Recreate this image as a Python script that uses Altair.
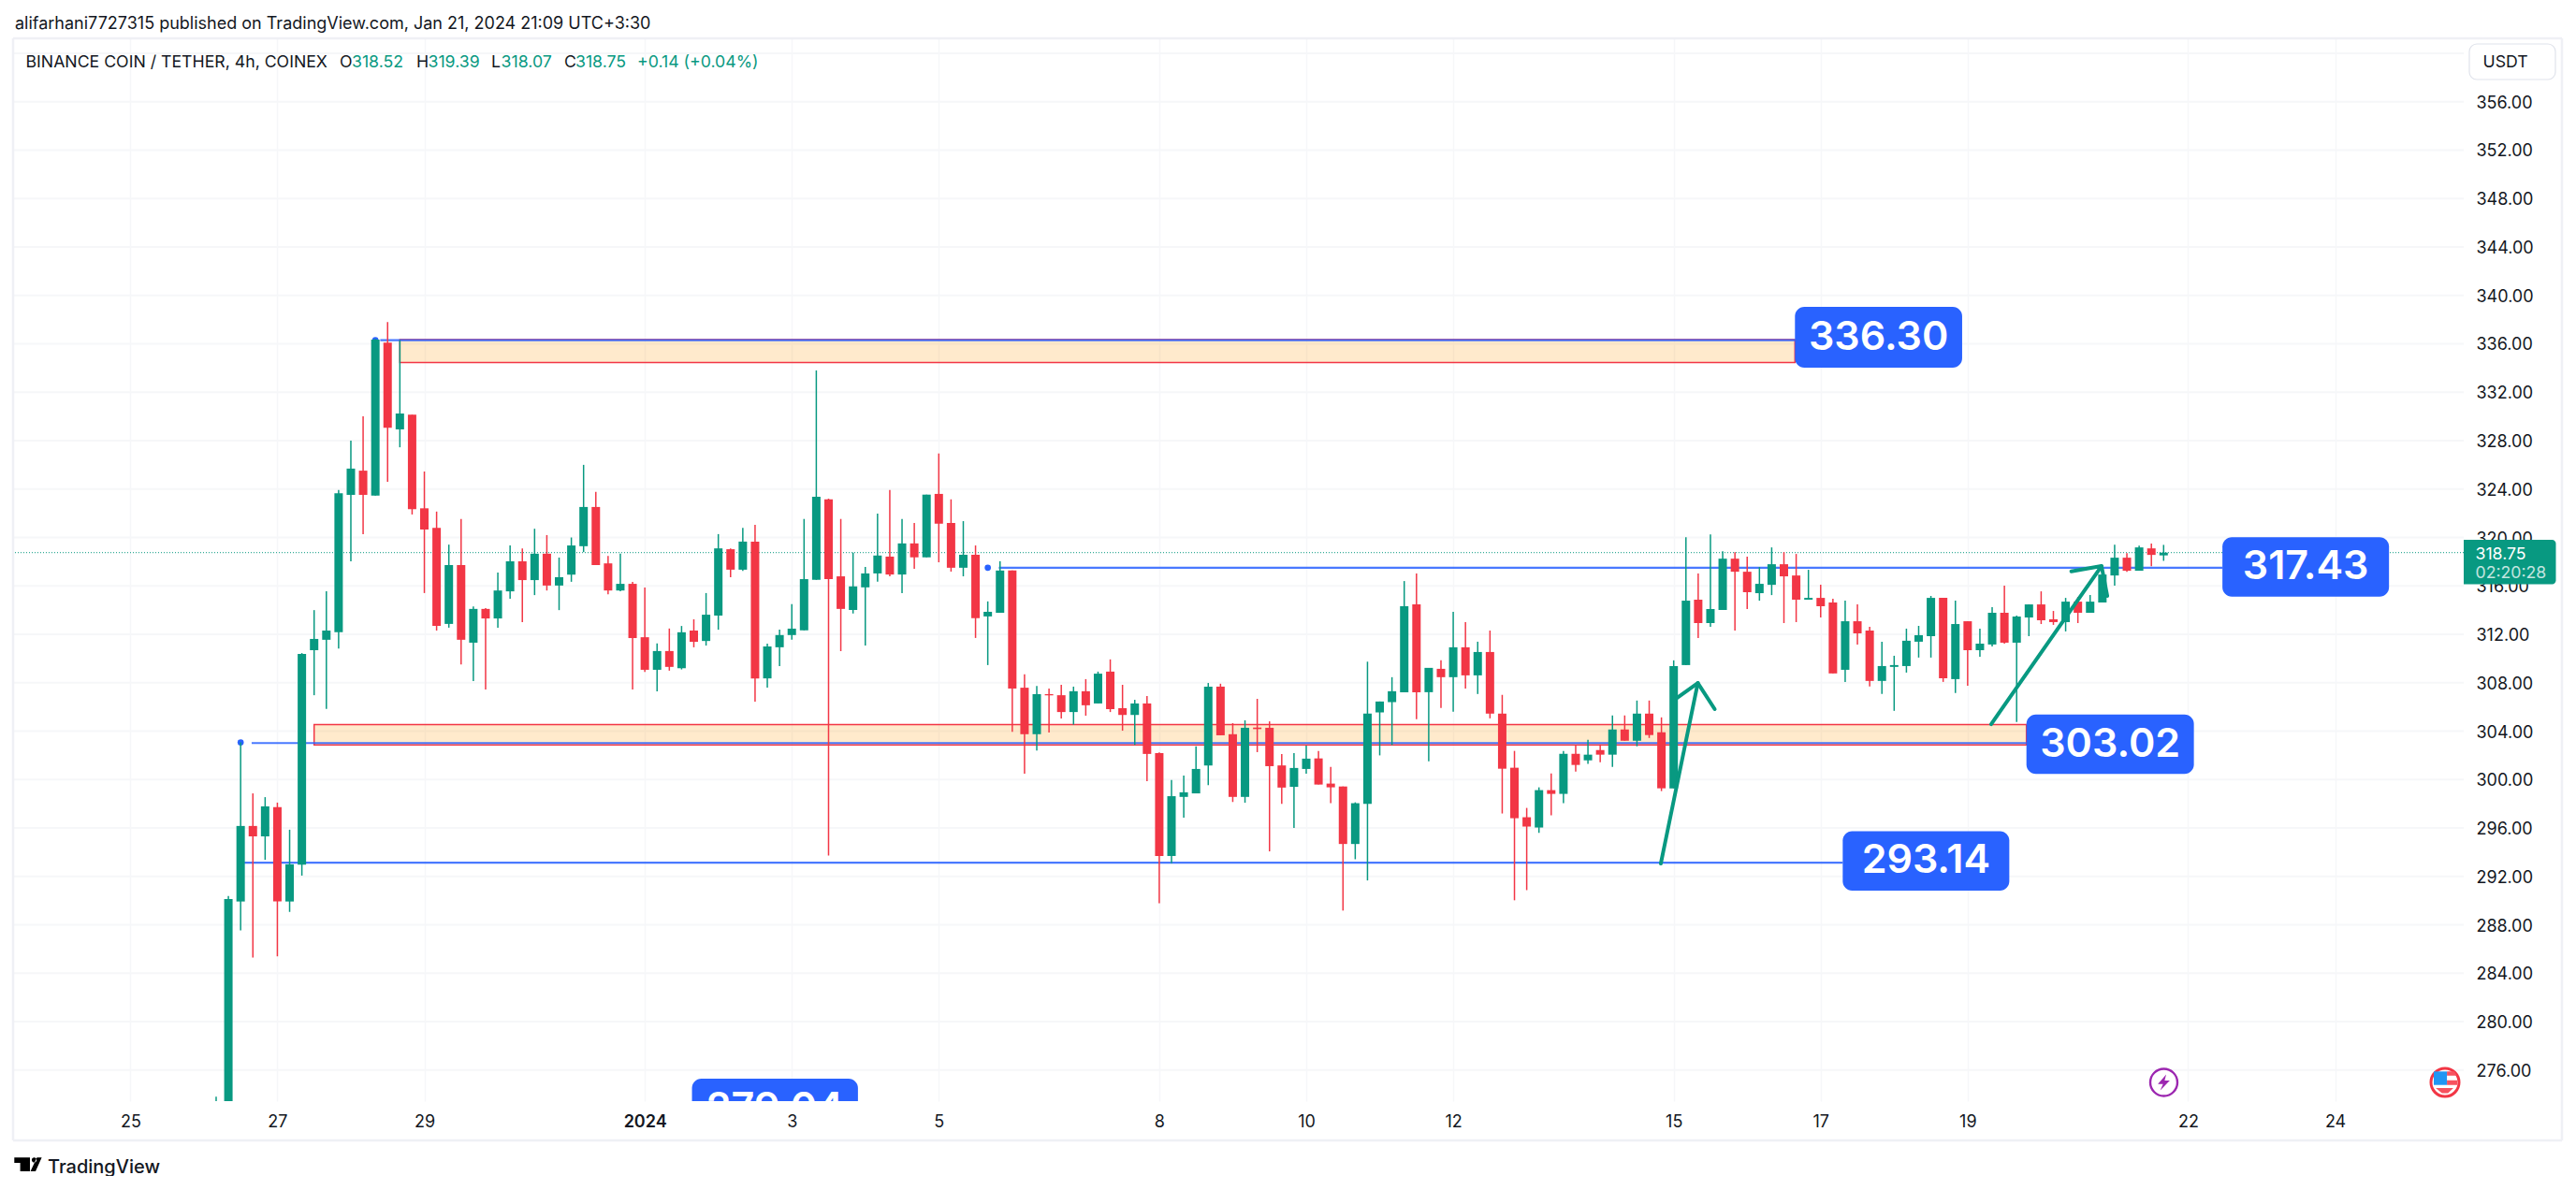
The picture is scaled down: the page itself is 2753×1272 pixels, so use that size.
import altair as alt
import pandas as pd

# ---- candle data (bar index 0 = Dec 27 00:00, 6 bars per day) ----
first_bar = -5
body_top = [272.0, 290.14, 296.17, 296.17, 297.79, 297.72, 293.0, 310.38, 311.62, 312.31, 323.66, 325.69, 325.52, 336.34, 336.1, 330.24, 330.14, 322.41, 320.79, 317.72, 317.72, 314.1, 314.1, 315.62, 318.03, 318.03, 318.66, 318.66, 316.72, 319.34, 322.52, 322.52, 317.86, 316.17, 316.17, 311.76, 310.62, 310.62, 312.17, 312.31, 313.62, 319.1, 319.03, 319.66,
            319.66, 311.0, 311.94, 312.47, 316.56, 323.36, 323.15, 316.79, 315.96, 317.03, 318.51, 318.42, 319.51, 319.51, 323.54, 323.6, 321.2, 318.57, 318.57, 313.86, 317.27, 317.27, 307.59, 307.06, 307.06, 306.97, 307.3, 307.3, 308.75, 308.92, 305.9, 306.29, 306.29, 302.18, 298.63, 298.95, 300.88, 307.68, 307.68, 303.75, 304.28, 304.3, 304.28, 301.17, 300.96, 301.73,
            301.75, 299.67, 299.43, 298.05, 305.45, 306.45, 307.3, 314.32, 314.47, 309.23, 309.15, 310.93, 310.93, 310.54, 310.54, 305.45, 300.98, 296.89, 299.13, 299.13, 302.13, 302.13, 302.06, 302.44, 304.14, 304.14, 305.45, 305.45, 303.91, 309.38, 314.78, 314.86, 314.09, 318.25, 318.25, 317.17, 316.17, 317.79, 317.79, 316.86, 315.01, 315.01, 314.63, 313.08, 313.08, 312.31,
            309.38, 309.46, 311.47, 311.93, 315.01, 315.01, 312.85, 313.08, 311.23, 313.78, 313.78, 313.47, 314.47, 314.47, 313.24, 314.7, 314.7, 314.7, 316.94, 318.33, 318.33, 319.18, 319.1, 318.75]
body_bot = [270.0, 262.0, 289.93, 295.31, 295.31, 289.93, 289.93, 292.97, 310.69, 311.55, 312.17, 323.52, 323.52, 323.45, 329.07, 328.93, 322.34, 320.66, 312.69, 312.86, 311.55, 311.31, 313.31, 313.31, 315.55, 316.48, 316.48, 316.03, 316.03, 316.93, 319.28, 317.72, 315.62, 315.62, 311.69, 309.07, 309.07, 309.31, 309.2, 311.38, 311.45, 313.55, 317.34, 317.34,
            308.36, 308.36, 310.93, 311.94, 312.33, 316.5, 316.56, 314.1, 314.01, 315.88, 317.03, 316.94, 316.94, 318.36, 318.36, 321.14, 317.5, 317.5, 313.33, 313.48, 313.78, 307.53, 303.75, 303.75, 306.96, 305.58, 305.58, 306.14, 306.29, 305.82, 305.34, 305.34, 302.12, 293.69, 293.69, 298.57, 298.86, 301.17, 303.66, 298.57, 298.57, 304.17, 301.11, 299.34, 299.4, 300.88,
            299.59, 299.36, 294.68, 294.68, 298.0, 305.55, 306.4, 307.22, 307.22, 307.22, 308.46, 308.46, 308.61, 308.61, 305.45, 300.9, 296.81, 296.12, 296.04, 298.82, 298.82, 301.21, 301.59, 302.06, 302.06, 303.21, 303.21, 303.68, 299.28, 299.28, 309.46, 312.93, 312.93, 314.01, 317.17, 315.48, 315.4, 316.09, 316.79, 314.86, 314.86, 314.32, 308.77, 309.07, 312.08, 308.15,
            308.15, 309.31, 309.38, 311.39, 311.85, 308.38, 308.3, 310.69, 310.69, 311.16, 311.31, 311.31, 313.39, 313.16, 313.01, 313.01, 313.78, 313.78, 314.63, 316.86, 317.25, 317.25, 318.56, 318.52]
highs = [273.8, 290.38, 303.07, 298.86, 298.55, 298.1, 295.86, 310.45, 314.0, 315.55, 323.93, 328.0, 330.0, 336.4, 337.79, 336.3, 330.14, 325.45, 322.14, 319.41, 321.52, 314.31, 314.17, 317.1, 319.34, 319.1, 320.72, 320.2, 318.34, 320.0, 326.0, 323.76, 318.48, 318.66, 316.34, 315.86, 311.24, 312.48, 312.69, 313.24, 315.41, 320.28, 319.1, 320.79,
         321.05, 311.23, 312.38, 314.49, 321.53, 333.8, 323.2, 321.53, 318.75, 317.56, 321.97, 323.92, 321.53, 321.2, 323.54, 326.94, 323.15, 321.35, 319.34, 314.72, 318.04, 317.27, 308.69, 307.74, 307.53, 307.83, 307.68, 308.3, 308.92, 309.93, 307.83, 306.59, 306.91, 302.24, 299.96, 300.34, 302.74, 307.98, 307.92, 304.66, 304.9, 306.67, 304.81, 302.12, 302.18, 302.8,
         302.37, 301.05, 299.43, 298.12, 309.74, 306.45, 308.46, 316.4, 317.02, 309.23, 309.85, 313.86, 313.0, 311.39, 312.31, 307.0, 302.37, 297.66, 299.36, 300.51, 302.37, 302.83, 303.29, 302.9, 305.3, 305.3, 306.53, 306.53, 305.14, 309.85, 320.03, 317.02, 320.26, 318.87, 318.79, 318.41, 317.56, 319.18, 318.79, 318.64, 317.33, 316.09, 314.94, 314.78, 314.47, 312.62,
         311.39, 310.23, 312.47, 312.7, 315.17, 315.01, 314.78, 313.08, 312.47, 314.24, 316.02, 313.55, 314.47, 315.55, 313.93, 315.01, 315.09, 315.24, 316.94, 319.41, 318.71, 319.33, 319.49, 319.39]
lows = [266.0, 260.0, 287.55, 285.3, 293.38, 285.4, 289.07, 292.07, 306.97, 305.83, 310.83, 318.03, 320.28, 323.45, 324.59, 327.45, 321.9, 315.41, 312.31, 312.55, 309.52, 308.14, 307.45, 312.55, 314.93, 313.0, 315.24, 315.62, 314.0, 316.34, 318.79, 317.72, 315.31, 315.55, 307.45, 308.9, 307.28, 309.0, 309.1, 310.93, 311.07, 312.38, 316.72, 317.24,
        306.44, 307.59, 309.37, 311.56, 312.33, 316.5, 293.72, 310.61, 313.72, 311.08, 316.35, 316.79, 315.4, 317.41, 318.36, 317.95, 317.18, 316.79, 311.7, 309.46, 313.78, 303.95, 300.49, 302.41, 303.89, 305.05, 304.54, 305.28, 306.29, 305.58, 304.04, 302.86, 299.87, 289.78, 293.09, 296.85, 298.86, 299.54, 303.66, 298.15, 298.09, 302.27, 294.07, 298.0, 296.0, 300.49,
        299.59, 298.05, 289.18, 293.42, 291.67, 302.0, 302.85, 307.22, 304.99, 301.52, 305.91, 305.6, 307.53, 307.07, 305.06, 297.2, 290.03, 290.87, 295.6, 297.04, 298.05, 300.67, 301.29, 301.44, 301.05, 303.21, 302.75, 303.44, 299.05, 299.28, 309.46, 311.7, 312.62, 314.01, 312.31, 314.09, 314.78, 315.24, 312.93, 313.01, 314.86, 313.39, 308.77, 308.07, 311.16, 307.69,
        307.07, 305.68, 308.84, 310.08, 310.08, 308.07, 307.15, 307.76, 310.15, 311.0, 311.23, 304.76, 311.85, 312.85, 312.78, 312.24, 312.93, 313.78, 314.63, 316.02, 317.17, 317.25, 317.63, 318.07]
rising_bars = [-5, -4, -3, -1, 1, 2, 3, 4, 5, 6, 8, 10, 14, 16, 18, 19, 21, 23, 24, 25, 28, 31, 33, 35, 36, 38,
               40, 41, 42, 43, 44, 47, 48, 49, 51, 53, 56, 58, 59, 62, 65, 67, 70, 73, 74, 75, 76, 79, 83, 84,
               88, 89, 90, 91, 92, 94, 96, 98, 103, 105, 107, 109, 111, 114, 115, 117, 118, 121, 122, 125, 128,
               131, 132, 133, 134, 135, 137, 139, 140, 142, 143, 146, 148, 149, 150, 152, 154]

# ---- axis values ----
price_ticks = list(range(276, 360, 4))
grid_prices = list(range(276, 364, 4))
day_bars = [-12, 0, 12, 30, 42, 54, 72, 84, 96, 114, 126, 138, 156, 168]
day_labels = ["25", "27", "29", "2024", "3", "5", "8", "10", "12", "15", "17", "19", "22", "24"]
year_bar = 30

# ---- drawings ----
line_price = [336.3, 303.02, 293.14, 317.5]
line_start = [8.0, -3.0, -3.0, 58.0]
line_gap = [0.4, 0.9, 0.3, 0.9]
line_end = [123.9, 142.8, 127.8, 158.8]
dot_bar = [8.0, -3.0, 58.0]
dot_price = [336.3, 303.07, 317.5]

zone_start = [10.0, 3.0]
zone_end = [123.9, 142.8]
zone_top = [336.34, 304.55]
zone_bot = [334.45, 302.86]

box_text = ["336.30", "317.43", "303.02", "293.14", "279.04"]
box_left = [123.9, 158.8, 142.8, 127.8, 33.85]
box_right = [137.55, 172.4, 156.47, 141.4, 47.4]
box_top = [339.05, 320.03, 305.37, 295.73, 275.3]
box_bot = [334.02, 315.12, 300.46, 290.82, 270.4]

arrow_id = ["a1", "a1", "h1", "h1", "h1", "a2", "a2", "h2", "h2", "h2"]
arrow_bar = [112.95, 115.97, 114.26, 115.97, 117.35, 139.92, 148.93, 146.46, 148.93, 149.4]
arrow_price = [293.07, 307.98, 306.74, 307.98, 305.82, 304.58, 317.64, 317.2, 317.64, 315.17]

last_close = 318.75

# ---- colours ----
GREEN = "#089981"
RED = "#F23645"
BLUE = "#2962FF"
INK = "#131722"
GRID = "#F6F7F9"
FRAME = "#EFF0F5"
FONT = "Inter"

# ---- frame geometry of the view ----
PLOT_W, PLOT_H = 2618, 1136
LEFT, TOP = 15, 41
xdom = [-21.5, 178.5]
ydom = [273.44, 361.23]


def px(x):
    return x - LEFT


def py(y):
    return y - TOP


xs = alt.Scale(domain=xdom, nice=False, zero=False, padding=0)
ys = alt.Scale(domain=ydom, nice=False, zero=False, padding=0)


def X(f):
    return alt.X(f, type="quantitative", scale=xs, title=None)


def Y(f):
    return alt.Y(f, type="quantitative", scale=ys, title=None)


bars = list(range(first_bar, first_bar + len(body_top)))
candles = pd.DataFrame({
    "bar": bars,
    "top": body_top,
    "bot": body_bot,
    "high": highs,
    "low": lows,
    "col": [GREEN if b in rising_bars else RED for b in bars],
})

# Axes and grid
x_axis = alt.Axis(
    values=day_bars, title=None, domain=False, ticks=False, grid=True, gridColor=GRID, gridWidth=1.5,
    labelFont=FONT, labelFontSize=18, labelColor=INK, labelPadding=13, labelAngle=0, labelOverlap=False,
    labelExpr="[" + ",".join(f"'{s}'" for s in day_labels) + "][indexof([" + ",".join(map(str, day_bars)) + "],datum.value)]",
    labelFontWeight={"condition": {"test": f"datum.value=={year_bar}", "value": 600}, "value": 400},
)
y_axis = alt.Axis(
    values=price_ticks, orient="right", title=None, domain=False, ticks=False, grid=False,
    labelFont=FONT, labelFontSize=18, labelColor=INK, labelPadding=13, format=".2f", labelOverlap=False,
    labelBaseline="middle", labelOffset=1.5,
)
axes = alt.Chart(pd.DataFrame({"bar": [0], "p": [300]})).mark_point(opacity=0).encode(
    x=alt.X("bar:Q", scale=xs, axis=x_axis), y=alt.Y("p:Q", scale=ys, axis=y_axis))
hgrid = alt.Chart(pd.DataFrame({"p": grid_prices})).mark_rule(color=GRID, strokeWidth=2).encode(y=Y("p"))

# Close line
close_line = alt.Chart(pd.DataFrame({"p": [last_close]})).mark_rule(
    color=GREEN, strokeWidth=1, strokeDash=[1, 2]).encode(y=Y("p"))

# Levels
lines = pd.DataFrame({"p": line_price, "a": [s + g for s, g in zip(line_start, line_gap)], "b": line_end})
level_lines = alt.Chart(lines).mark_rule(color=BLUE, strokeWidth=2.2, opacity=0.85, clip=True).encode(
    x=X("a"), x2=alt.X2("b"), y=Y("p"))
dots = alt.Chart(pd.DataFrame({"a": dot_bar, "p": dot_price})).mark_circle(color=BLUE, size=45, opacity=1).encode(
    x=X("a"), y=Y("p"))

zones = pd.DataFrame({"a": zone_start, "b": zone_end, "t": zone_top, "u": zone_bot})
zone_rect = alt.Chart(zones).mark_rect(
    fill="#FF9800", fillOpacity=0.2, stroke=RED, strokeWidth=1.5).encode(
    x=X("a"), x2=alt.X2("b"), y=Y("t"), y2=alt.Y2("u"))

# Candles
wicks = alt.Chart(candles).mark_rule(strokeWidth=1.5, clip=True).encode(
    x=X("bar"), y=Y("high"), y2=alt.Y2("low"), color=alt.Color("col:N", scale=None, legend=None))
bodies = alt.Chart(candles).mark_bar(size=9, clip=True).encode(
    x=X("bar"), y=Y("top"), y2=alt.Y2("bot"), color=alt.Color("col:N", scale=None, legend=None))

# Arrows
arrows_df = pd.DataFrame({"id": arrow_id, "bar": arrow_bar, "p": arrow_price, "n": range(len(arrow_id))})
arrows = alt.Chart(arrows_df).mark_line(color=GREEN, strokeWidth=4, strokeCap="round", strokeJoin="round").encode(
    x=X("bar"), y=Y("p"), detail="id:N", order="n:Q")

# Value boxes
boxes_df = pd.DataFrame({"t": box_text, "a": box_left, "b": box_right, "u": box_top, "v": box_bot})
boxes_df["m"] = (boxes_df["a"] + boxes_df["b"]) / 2
boxes_df["c"] = (boxes_df["u"] + boxes_df["v"]) / 2
boxes = alt.Chart(boxes_df).mark_rect(color=BLUE, cornerRadius=10, clip=True, opacity=1).encode(
    x=X("a"), x2=alt.X2("b"), y=Y("u"), y2=alt.Y2("v"))
box_labels = alt.Chart(boxes_df).mark_text(
    color="white", font=FONT, fontSize=43, fontWeight=600, baseline="middle", align="center", clip=True).encode(
    x=X("m"), y=Y("c"), text="t:N")


# ---- chrome ----
def one():
    return alt.Chart(pd.DataFrame({"k": [0]}))


def label(txt, x, y, size=17.7, color=INK, weight=400, align="left", opacity=1):
    return one().mark_text(text=txt, font=FONT, fontSize=size, color=color, fontWeight=weight,
                           align=align, baseline="middle", opacity=opacity).encode(
        x=alt.value(px(x)), y=alt.value(py(y + 1.5)))


def frame(x1, y1, x2, y2):
    return one().mark_rule(color=FRAME, strokeWidth=2.5).encode(
        x=alt.value(px(x1)), x2=alt.value(px(x2)), y=alt.value(py(y1)), y2=alt.value(py(y2)))


def rect(x1, y1, x2, y2, **kw):
    return one().mark_rect(**kw).encode(
        x=alt.value(px(x1)), x2=alt.value(px(x2)), y=alt.value(py(y1)), y2=alt.value(py(y2)))


def glyph(path, x, y, span, color):
    return one().mark_point(shape=path, size=span * span, filled=True, fill=color, stroke=color, strokeWidth=0,
                            opacity=1).encode(x=alt.value(px(x)), y=alt.value(py(y)))


def ring(x, y, d, color, width, fill="white"):
    return one().mark_point(shape="circle", size=d * d, filled=True, fill=fill, stroke=color, strokeWidth=width,
                            opacity=1).encode(x=alt.value(px(x)), y=alt.value(py(y)))


frames = [frame(14, 41, 2738, 41), frame(14, 1219, 2738, 1219), frame(14, 41, 14, 1219), frame(2738, 41, 2738, 1219)]
tag = rect(2633, 577, 2731.5, 624.5, color=GREEN, cornerRadiusTopRight=4, cornerRadiusBottomRight=4, opacity=1)
button = rect(2639, 47, 2731, 85, fill="white", stroke="#E0E3EB", strokeWidth=1.2, cornerRadius=8)

chrome = [
    label("alifarhani7727315 published on TradingView.com, Jan 21, 2024 21:09 UTC+3:30", 16, 24, size=18),
    label("BINANCE COIN / TETHER, 4h, COINEX", 27.5, 65),
    label("O", 363, 65), label("318.52", 376, 65, color=GREEN),
    label("H", 445, 65), label("319.39", 457.5, 65, color=GREEN),
    label("L", 525, 65), label("318.07", 535.6, 65, color=GREEN),
    label("C", 603, 65), label("318.75", 615, 65, color=GREEN),
    label("+0.14 (+0.04%)", 681, 65, color=GREEN),
    button, label("USDT", 2653.5, 65.5),
    tag,
    label("318.75", 2645.5, 591, color="white"),
    label("02:20:28", 2645.5, 611.5, color="white", opacity=0.75),
    label("TradingView", 51, 1246, size=20, weight=500),
]

logo = glyph("M-1,-.5L.14,-.5L.14,.5L-.57,.5L-.57,-.12L-1,-.12Z"
             "M.27,-.32a.18,.18 0 1,0 .36,0a.18,.18 0 1,0 -.36,0Z"
             "M.65,-.5L1,-.5L.55,.5L.18,.5Z", 29.95, 1244.65, 29.3, "#000000")

bolt = [ring(2312.5, 1157, 29, "#9C27B0", 2.4),
        glyph("M.3,-1L-.75,.2L-.1,.2L-.45,1L.75,-.25L.1,-.25Z", 2312.5, 1157, 17, "#9C27B0")]
flag_stripes = ("M.13,-.73L.62,-.73L.8,-.46L.13,-.46Z"
                "M.13,-.14L.82,-.14L.82,.17L.13,.17Z"
                "M-.62,.38L.56,.38L.2,.72L-.2,.72Z")
flag = [ring(2613, 1157, 30, RED, 3),
        glyph(flag_stripes, 2613, 1157, 32, "#F7525F"),
        glyph("M-.75,-.73L.13,-.73L.13,.17L-.75,.17Z", 2613, 1157, 32, "#2196F3")]

chart = alt.layer(
    axes, hgrid, close_line, zone_rect, level_lines, dots, wicks, bodies, arrows,
    *bolt, *flag, boxes, box_labels, *frames, logo, *chrome
).properties(
    width=PLOT_W, height=PLOT_H,
    autosize=alt.AutoSizeParams(type="none"),
    padding={"left": LEFT - 8, "top": TOP - 8, "right": 110, "bottom": 80},
    background="white",
).configure_view(stroke=None)

chart.save("out.html", embed_options={"renderer": "svg", "actions": False})
